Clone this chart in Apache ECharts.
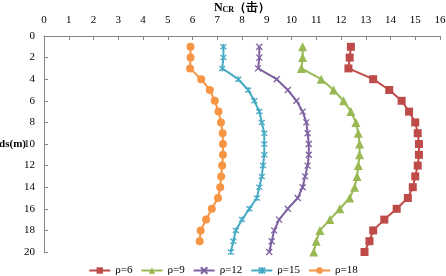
<!DOCTYPE html>
<html>
<head>
<meta charset="utf-8">
<script src="https://cdn.jsdelivr.net/npm/echarts@6/dist/echarts.min.js"></script>
<style>
  html, body { margin: 0; padding: 0; background: #fff; }
  #chart { width: 446px; height: 276px; }
</style>
</head>
<body>
<div id="chart"></div>
<script>
// depth (m) of each reading
var depth_a = [1,2,3,4,5,6,7,8,9,10,11,12,13,14,15,16,17,18,19,20];
var depth_b = [1,2,3,4,5,6,7,8,9,10,11,12,13,14,15,16,17,18,19];

// N_CR values per rho
var n_rho6  = [12.4,12.35,12.3,13.3,13.95,14.45,14.75,15.0,15.1,15.15,15.15,15.1,15.0,14.9,14.7,14.25,13.75,13.3,13.15,12.95];
var n_rho9  = [10.45,10.45,10.4,11.2,11.7,12.1,12.4,12.6,12.7,12.75,12.75,12.7,12.65,12.55,12.35,11.95,11.55,11.15,11.0,10.9];
var n_rho12 = [8.7,8.7,8.65,9.4,9.85,10.2,10.45,10.6,10.65,10.7,10.7,10.65,10.55,10.45,10.25,9.85,9.5,9.3,9.2,9.1];
var n_rho15 = [7.25,7.25,7.2,7.85,8.25,8.5,8.7,8.8,8.9,8.9,8.9,8.85,8.8,8.7,8.6,8.3,8.0,7.75,7.65,7.55];
var n_rho18 = [5.92,5.92,5.9,6.35,6.7,6.9,7.05,7.15,7.22,7.23,7.23,7.2,7.16,7.12,7.03,6.78,6.55,6.33,6.29];

var seriesNames = ['ρ=6', 'ρ=9', 'ρ=12', 'ρ=15', 'ρ=18'];

var chart = echarts.init(document.getElementById('chart'), null, {renderer: 'canvas'});

function pairs(xs, ys) {
  var out = [];
  for (var i = 0; i < ys.length; i++) out.push([xs[i], ys[i]]);
  return out;
}

var crossPath = 'path://M0,0 L10,10 M10,0 L0,10';
var starPath = 'path://M0,0 L10,10 M10,0 L0,10 M5,-1 L5,11';

var font = '"Liberation Serif", "Times New Roman", serif';
var axisColor = '#868686';

var colors = ['#BE4B48', '#98B954', '#7D60A0', '#46AAC5', '#F69544'];

function mkSeries(name, data, color, symbol, size, stroke) {
  var s = {
    name: name,
    type: 'line',
    data: data,
    symbol: symbol,
    symbolSize: size,
    showSymbol: true,
    animation: false,
    lineStyle: { color: color, width: 2 },
    itemStyle: { color: color }
  };
  if (stroke) {
    s.itemStyle.borderColor = color;
    s.itemStyle.borderWidth = 1.3;
  }
  return s;
}

var option = {
  backgroundColor: '#fff',
  animation: false,
  textStyle: { fontFamily: font },
  grid: { left: 44, right: 6, top: 36, bottom: 24, containLabel: false, outerBoundsMode: 'none' },
  legend: {
    top: 260,
    left: 'center',
    itemWidth: 21,
    itemHeight: 8,
    itemGap: 8,
    textStyle: { fontFamily: font, fontSize: 11, color: '#000' },
    data: seriesNames
  },
  xAxis: {
    type: 'value',
    position: 'top',
    min: 0,
    max: 16,
    interval: 1,
    name: '{n|N}{sub|CR}{n|（击）}',
    nameLocation: 'middle',
    nameGap: 22,
    nameMoveOverlap: false,
    nameTextStyle: {
      rich: {
        n: { fontFamily: font, fontSize: 12, fontWeight: 'bold', color: '#000' },
        sub: { fontFamily: font, fontSize: 8, fontWeight: 'bold', color: '#000', verticalAlign: 'bottom', padding: [5, 0, 0, 0] }
      }
    },
    axisLine: { show: true, lineStyle: { color: axisColor, width: 1 } },
    axisTick: { show: true, inside: true, length: 4, lineStyle: { color: axisColor } },
    axisLabel: { fontFamily: font, fontSize: 11, color: '#000', margin: 10 },
    splitLine: { show: false }
  },
  yAxis: {
    type: 'value',
    inverse: true,
    min: 0,
    max: 20,
    interval: 2,
    name: 'ds(m)',
    nameLocation: 'middle',
    nameRotate: 0,
    nameGap: 18,
    nameMoveOverlap: false,
    nameTextStyle: { fontFamily: font, fontSize: 11, fontWeight: 'bold', color: '#000', align: 'right' },
    axisLine: { show: true, lineStyle: { color: axisColor, width: 1 } },
    axisTick: { show: true, inside: true, length: 4, lineStyle: { color: axisColor } },
    axisLabel: { fontFamily: font, fontSize: 11, color: '#000', margin: 9 },
    splitLine: { show: false }
  },
  series: [
    mkSeries(seriesNames[0], pairs(n_rho6, depth_a), colors[0], 'rect', 8, false),
    mkSeries(seriesNames[1], pairs(n_rho9, depth_a), colors[1], 'triangle', 9, false),
    mkSeries(seriesNames[2], pairs(n_rho12, depth_a), colors[2], crossPath, 6, true),
    mkSeries(seriesNames[3], pairs(n_rho15, depth_a), colors[3], starPath, 6, true),
    mkSeries(seriesNames[4], pairs(n_rho18, depth_b), colors[4], 'circle', 8, false)
  ]
};

chart.setOption(option);
</script>
</body>
</html>
